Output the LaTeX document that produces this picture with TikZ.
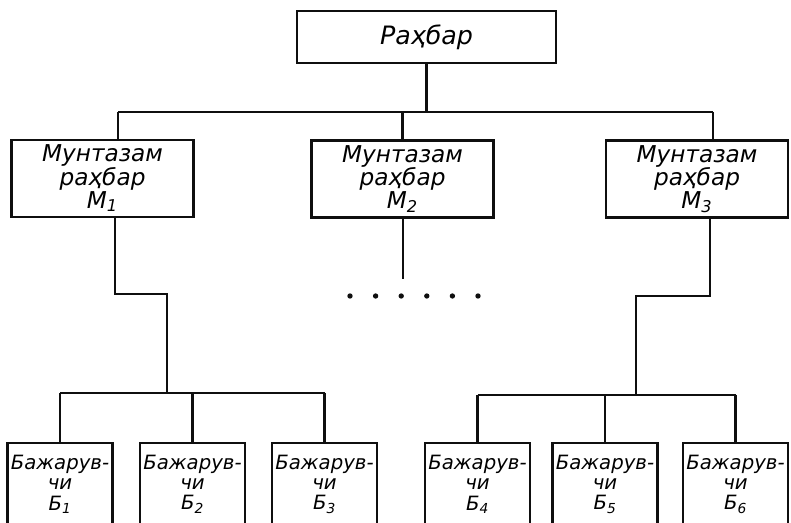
\documentclass[tikz,border=0pt]{standalone}
\usepackage{fontspec}
\usepackage{tikz}
\usetikzlibrary{positioning, calc}
\newfontfamily\draftfont{DejaVu Sans}
\definecolor{inkblack}{RGB}{15,15,15}
\tikzset{
  headbox/.style={rectangle, draw=inkblack, line width=1.6pt,
    minimum width=6.475cm, minimum height=1.3cm, inner sep=0pt,
    font=\draftfont\itshape\fontsize{18}{18}\selectfont},
  midbox/.style={rectangle, draw=inkblack, line width=1.6pt,
    minimum width=4.55cm, minimum height=1.925cm, inner sep=0pt, align=center,
    font=\draftfont\itshape\fontsize{16.5}{16.5}\selectfont},
  workbox/.style={rectangle, draw=inkblack, line width=1.6pt,
    minimum width=2.625cm, minimum height=2.05cm, inner sep=0pt, align=center,
    font=\draftfont\itshape\fontsize{14}{14.5}\selectfont},
  wire/.style={line width=1.6pt, color=inkblack},
  dot/.style={circle, fill=inkblack, inner sep=0pt, minimum size=3.8pt}
}

\begin{document}
\begin{tikzpicture}[x=0.025cm, y=-0.025cm]
  \useasboundingbox (0,0) rectangle (791,523);
  \clip (0,0) rectangle (791,523);
  % Top manager
  \node[headbox] (head) at (426.5,37) {Раҳбар};
  % Line managers
  \node[midbox] (m1) at (102.5,178.5) {Мунтазам\\раҳбар\\М\textsubscript{1}};
  \node[midbox] (m2) at (402.5,179) {Мунтазам\\раҳбар\\М\textsubscript{2}};
  \node[midbox] (m3) at (697,179) {Мунтазам\\раҳбар\\М\textsubscript{3}};
  % Executors
  \node[workbox] (w1) at (60,484) {Бажарув-\\чи\\Б\textsubscript{1}};
  \node[workbox] (w2) at (192.5,484) {Бажарув-\\чи\\Б\textsubscript{2}};
  \node[workbox] (w3) at (324.5,484) {Бажарув-\\чи\\Б\textsubscript{3}};
  \node[workbox] (w4) at (477.5,484) {Бажарув-\\чи\\Б\textsubscript{4}};
  \node[workbox] (w5) at (605,484) {Бажарув-\\чи\\Б\textsubscript{5}};
  \node[workbox] (w6) at (735.5,484) {Бажарув-\\чи\\Б\textsubscript{6}};
  % Upper bus
  \coordinate (busL) at (118,112);
  \coordinate (busR) at (713,112);
  \draw[wire] (busL) -- (busR);
  \draw[wire] (head.south) -- (head.south |- busL);
  \draw[wire] (busL) -- (busL |- m1.north);
  \draw[wire] (m2.north |- busL) -- (m2.north);
  \draw[wire] (busR) -- (busR |- m3.north);
  % Left branch
  \coordinate (stepL) at (115,294);
  \coordinate (joinL) at (167,393);
  \draw[wire] (stepL |- m1.south) -- (stepL) -| (joinL);
  \draw[wire] (w1.north |- joinL) -- (w3.north |- joinL);
  \draw[wire] (w1.north |- joinL) -- (w1.north);
  \draw[wire] (w2.north |- joinL) -- (w2.north);
  \draw[wire] (w3.north |- joinL) -- (w3.north);
  % Right branch
  \coordinate (stepR) at (710,296);
  \coordinate (joinR) at (636,395);
  \draw[wire] (stepR |- m3.south) -- (stepR) -| (joinR);
  \draw[wire] (w4.north |- joinR) -- (w6.north |- joinR);
  \draw[wire] (w4.north |- joinR) -- (w4.north);
  \draw[wire] (w5.north |- joinR) -- (w5.north);
  \draw[wire] (w6.north |- joinR) -- (w6.north);
  % Middle branch, left open
  \coordinate (endM) at (403,279);
  \draw[wire] (endM |- m2.south) -- (endM);
  \foreach \i in {0,...,5}
    \node[dot] (d\i) at (350+25.6*\i,296) {};
\end{tikzpicture}
\end{document}
